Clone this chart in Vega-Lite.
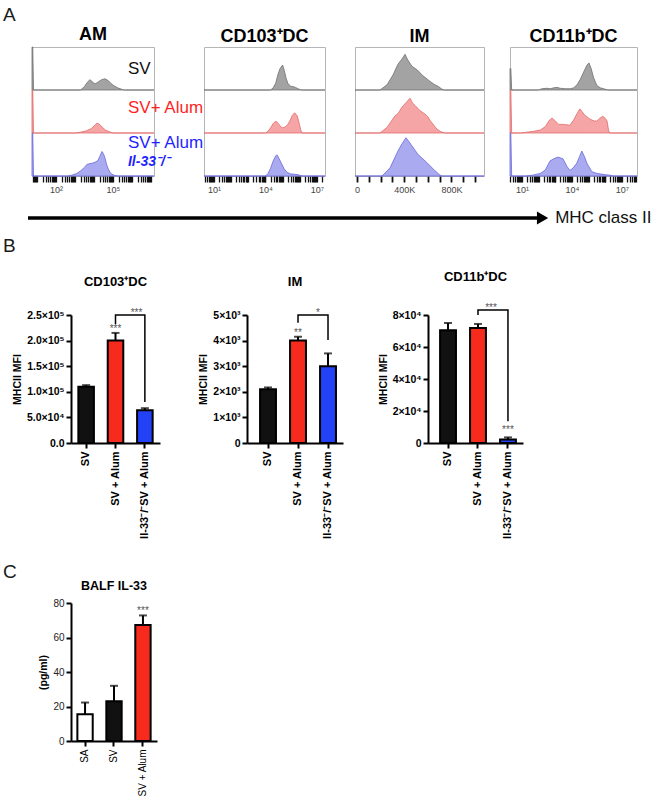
{
"$schema": "https://vega.github.io/schema/vega-lite/v6.json",
"background": "white",
"padding": {"left": 3, "top": 6, "right": 0, "bottom": 0},
"config": {"font": "Liberation Sans", "view": {"stroke": null}, "axis": {"grid": false}},
"spacing": 2,
"resolve": {"scale": {"color": "independent"}},
"datasets": {
"am": [
{"r":"SV","x":0.74,"y":1},{"r":"SV","x":0.78,"y":1},{"r":"SV","x":0.82,"y":0},{"r":"SV","x":3.3,"y":0},{"r":"SV","x":3.5,"y":0.08},{"r":"SV","x":3.65,"y":0.18},{"r":"SV","x":3.79,"y":0.24},{"r":"SV","x":3.92,"y":0.19},{"r":"SV","x":4.05,"y":0.14},{"r":"SV","x":4.2,"y":0.18},{"r":"SV","x":4.4,"y":0.24},{"r":"SV","x":4.58,"y":0.26},{"r":"SV","x":4.75,"y":0.22},{"r":"SV","x":4.9,"y":0.15},{"r":"SV","x":5.05,"y":0.1},{"r":"SV","x":5.25,"y":0.05},{"r":"SV","x":5.5,"y":0.01},{"r":"SV","x":5.6,"y":0},{"r":"SV","x":7.16,"y":0},
{"r":"Alum","x":0.74,"y":1},{"r":"Alum","x":0.78,"y":1},{"r":"Alum","x":0.82,"y":0},{"r":"Alum","x":3.0,"y":0},{"r":"Alum","x":3.3,"y":0.02},{"r":"Alum","x":3.6,"y":0.05},{"r":"Alum","x":3.85,"y":0.1},{"r":"Alum","x":4.05,"y":0.18},{"r":"Alum","x":4.16,"y":0.23},{"r":"Alum","x":4.3,"y":0.2},{"r":"Alum","x":4.45,"y":0.13},{"r":"Alum","x":4.6,"y":0.07},{"r":"Alum","x":4.8,"y":0.03},{"r":"Alum","x":5.0,"y":0},{"r":"Alum","x":7.16,"y":0},
{"r":"KO","x":0.74,"y":1},{"r":"KO","x":0.78,"y":1},{"r":"KO","x":0.82,"y":0},{"r":"KO","x":2.6,"y":0},{"r":"KO","x":2.84,"y":0.02},{"r":"KO","x":3.1,"y":0.06},{"r":"KO","x":3.3,"y":0.12},{"r":"KO","x":3.5,"y":0.2},{"r":"KO","x":3.63,"y":0.27},{"r":"KO","x":3.8,"y":0.29},{"r":"KO","x":3.95,"y":0.3},{"r":"KO","x":4.1,"y":0.33},{"r":"KO","x":4.21,"y":0.36},{"r":"KO","x":4.3,"y":0.45},{"r":"KO","x":4.42,"y":0.57},{"r":"KO","x":4.5,"y":0.52},{"r":"KO","x":4.58,"y":0.42},{"r":"KO","x":4.66,"y":0.28},{"r":"KO","x":4.74,"y":0.18},{"r":"KO","x":4.85,"y":0.08},{"r":"KO","x":4.95,"y":0.04},{"r":"KO","x":5.1,"y":0.01},{"r":"KO","x":5.3,"y":0},{"r":"KO","x":7.16,"y":0}
],
"cd103": [
{"r":"SV","x":0.42,"y":0},{"r":"SV","x":4.3,"y":0},{"r":"SV","x":4.45,"y":0.05},{"r":"SV","x":4.6,"y":0.16},{"r":"SV","x":4.72,"y":0.35},{"r":"SV","x":4.85,"y":0.5},{"r":"SV","x":5.0,"y":0.58},{"r":"SV","x":5.1,"y":0.45},{"r":"SV","x":5.2,"y":0.28},{"r":"SV","x":5.3,"y":0.16},{"r":"SV","x":5.45,"y":0.09},{"r":"SV","x":5.6,"y":0.08},{"r":"SV","x":5.75,"y":0.06},{"r":"SV","x":5.95,"y":0.02},{"r":"SV","x":6.1,"y":0},{"r":"SV","x":7.47,"y":0},
{"r":"Alum","x":0.42,"y":0},{"r":"Alum","x":4.0,"y":0},{"r":"Alum","x":4.15,"y":0.04},{"r":"Alum","x":4.3,"y":0.12},{"r":"Alum","x":4.45,"y":0.22},{"r":"Alum","x":4.6,"y":0.28},{"r":"Alum","x":4.75,"y":0.22},{"r":"Alum","x":4.9,"y":0.14},{"r":"Alum","x":5.0,"y":0.12},{"r":"Alum","x":5.15,"y":0.14},{"r":"Alum","x":5.3,"y":0.2},{"r":"Alum","x":5.45,"y":0.3},{"r":"Alum","x":5.55,"y":0.4},{"r":"Alum","x":5.7,"y":0.47},{"r":"Alum","x":5.85,"y":0.4},{"r":"Alum","x":5.95,"y":0.25},{"r":"Alum","x":6.05,"y":0.08},{"r":"Alum","x":6.12,"y":0},{"r":"Alum","x":7.47,"y":0},
{"r":"KO","x":0.42,"y":0},{"r":"KO","x":4.0,"y":0},{"r":"KO","x":4.15,"y":0.06},{"r":"KO","x":4.3,"y":0.18},{"r":"KO","x":4.45,"y":0.35},{"r":"KO","x":4.6,"y":0.47},{"r":"KO","x":4.68,"y":0.49},{"r":"KO","x":4.8,"y":0.4},{"r":"KO","x":4.95,"y":0.28},{"r":"KO","x":5.1,"y":0.16},{"r":"KO","x":5.25,"y":0.09},{"r":"KO","x":5.45,"y":0.05},{"r":"KO","x":5.7,"y":0.04},{"r":"KO","x":5.9,"y":0.03},{"r":"KO","x":6.05,"y":0.01},{"r":"KO","x":6.2,"y":0},{"r":"KO","x":7.47,"y":0}
],
"im": [
{"r":"SV","x":-17000,"y":0},{"r":"SV","x":195000,"y":0},{"r":"SV","x":254000,"y":0.12},{"r":"SV","x":305000,"y":0.35},{"r":"SV","x":347000,"y":0.6},{"r":"SV","x":381000,"y":0.72},{"r":"SV","x":407000,"y":0.83},{"r":"SV","x":430000,"y":0.7},{"r":"SV","x":449000,"y":0.62},{"r":"SV","x":466000,"y":0.55},{"r":"SV","x":509000,"y":0.47},{"r":"SV","x":559000,"y":0.33},{"r":"SV","x":619000,"y":0.2},{"r":"SV","x":660000,"y":0.12},{"r":"SV","x":690000,"y":0.08},{"r":"SV","x":720000,"y":0.02},{"r":"SV","x":740000,"y":0},{"r":"SV","x":1076000,"y":0},
{"r":"Alum","x":-17000,"y":0},{"r":"Alum","x":195000,"y":0},{"r":"Alum","x":254000,"y":0.13},{"r":"Alum","x":322000,"y":0.4},{"r":"Alum","x":347000,"y":0.45},{"r":"Alum","x":381000,"y":0.6},{"r":"Alum","x":420000,"y":0.72},{"r":"Alum","x":449000,"y":0.81},{"r":"Alum","x":470000,"y":0.7},{"r":"Alum","x":492000,"y":0.64},{"r":"Alum","x":534000,"y":0.52},{"r":"Alum","x":576000,"y":0.44},{"r":"Alum","x":600000,"y":0.38},{"r":"Alum","x":619000,"y":0.29},{"r":"Alum","x":660000,"y":0.15},{"r":"Alum","x":678000,"y":0.09},{"r":"Alum","x":710000,"y":0.03},{"r":"Alum","x":746000,"y":0},{"r":"Alum","x":1076000,"y":0},
{"r":"KO","x":-17000,"y":0},{"r":"KO","x":212000,"y":0},{"r":"KO","x":280000,"y":0.19},{"r":"KO","x":347000,"y":0.58},{"r":"KO","x":381000,"y":0.75},{"r":"KO","x":415000,"y":0.89},{"r":"KO","x":440000,"y":0.8},{"r":"KO","x":466000,"y":0.7},{"r":"KO","x":517000,"y":0.5},{"r":"KO","x":593000,"y":0.31},{"r":"KO","x":661000,"y":0.12},{"r":"KO","x":703000,"y":0.02},{"r":"KO","x":720000,"y":0},{"r":"KO","x":1076000,"y":0}
],
"cd11b": [
{"r":"SV","x":0.28,"y":0.5},{"r":"SV","x":0.33,"y":0.5},{"r":"SV","x":0.38,"y":0},{"r":"SV","x":2.0,"y":0},{"r":"SV","x":2.2,"y":0.03},{"r":"SV","x":2.5,"y":0.04},{"r":"SV","x":2.7,"y":0.03},{"r":"SV","x":2.9,"y":0.05},{"r":"SV","x":3.1,"y":0.06},{"r":"SV","x":3.3,"y":0.04},{"r":"SV","x":3.6,"y":0.03},{"r":"SV","x":3.9,"y":0.03},{"r":"SV","x":4.1,"y":0.05},{"r":"SV","x":4.3,"y":0.12},{"r":"SV","x":4.5,"y":0.25},{"r":"SV","x":4.7,"y":0.42},{"r":"SV","x":4.9,"y":0.58},{"r":"SV","x":5.02,"y":0.63},{"r":"SV","x":5.15,"y":0.5},{"r":"SV","x":5.3,"y":0.28},{"r":"SV","x":5.5,"y":0.1},{"r":"SV","x":5.7,"y":0.05},{"r":"SV","x":5.9,"y":0.03},{"r":"SV","x":6.15,"y":0},{"r":"SV","x":7.9,"y":0},
{"r":"Alum","x":0.28,"y":1},{"r":"Alum","x":0.33,"y":1},{"r":"Alum","x":0.38,"y":0},{"r":"Alum","x":0.9,"y":0},{"r":"Alum","x":1.3,"y":0.02},{"r":"Alum","x":1.7,"y":0.04},{"r":"Alum","x":2.1,"y":0.07},{"r":"Alum","x":2.4,"y":0.15},{"r":"Alum","x":2.65,"y":0.3},{"r":"Alum","x":2.8,"y":0.35},{"r":"Alum","x":3.0,"y":0.28},{"r":"Alum","x":3.2,"y":0.2},{"r":"Alum","x":3.5,"y":0.2},{"r":"Alum","x":3.87,"y":0.18},{"r":"Alum","x":4.1,"y":0.3},{"r":"Alum","x":4.3,"y":0.45},{"r":"Alum","x":4.47,"y":0.56},{"r":"Alum","x":4.6,"y":0.5},{"r":"Alum","x":4.75,"y":0.42},{"r":"Alum","x":4.89,"y":0.38},{"r":"Alum","x":5.05,"y":0.33},{"r":"Alum","x":5.2,"y":0.3},{"r":"Alum","x":5.35,"y":0.28},{"r":"Alum","x":5.49,"y":0.28},{"r":"Alum","x":5.65,"y":0.34},{"r":"Alum","x":5.85,"y":0.39},{"r":"Alum","x":6.0,"y":0.34},{"r":"Alum","x":6.1,"y":0.28},{"r":"Alum","x":6.2,"y":0.05},{"r":"Alum","x":6.27,"y":0},{"r":"Alum","x":7.9,"y":0},
{"r":"KO","x":0.28,"y":1},{"r":"KO","x":0.33,"y":1},{"r":"KO","x":0.38,"y":0},{"r":"KO","x":1.2,"y":0},{"r":"KO","x":1.66,"y":0.02},{"r":"KO","x":2.1,"y":0.06},{"r":"KO","x":2.4,"y":0.14},{"r":"KO","x":2.68,"y":0.35},{"r":"KO","x":2.9,"y":0.4},{"r":"KO","x":3.16,"y":0.44},{"r":"KO","x":3.46,"y":0.4},{"r":"KO","x":3.7,"y":0.22},{"r":"KO","x":3.87,"y":0.13},{"r":"KO","x":4.05,"y":0.18},{"r":"KO","x":4.29,"y":0.3},{"r":"KO","x":4.45,"y":0.45},{"r":"KO","x":4.59,"y":0.58},{"r":"KO","x":4.75,"y":0.45},{"r":"KO","x":4.89,"y":0.3},{"r":"KO","x":5.19,"y":0.1},{"r":"KO","x":5.5,"y":0.06},{"r":"KO","x":5.67,"y":0.05},{"r":"KO","x":6.0,"y":0.03},{"r":"KO","x":6.27,"y":0.02},{"r":"KO","x":6.5,"y":0},{"r":"KO","x":7.9,"y":0}
],
"b1": [{"g":"SV","m":110000,"e":113000},{"g":"SV + Alum","m":200000,"e":215000},{"g":"Il-33⁻/⁻SV + Alum","m":64000,"e":68000}],
"b1br": [{"g":"SV + Alum","v":232000,"i":1},{"g":"SV + Alum","v":250000,"i":2},{"g":"Il-33⁻/⁻SV + Alum","v":250000,"i":3},{"g":"Il-33⁻/⁻SV + Alum","v":80000,"i":4}],
"b2": [{"g":"SV","m":2100,"e":2170},{"g":"SV + Alum","m":4000,"e":4150},{"g":"Il-33⁻/⁻SV + Alum","m":3000,"e":3500}],
"b2br": [{"g":"SV + Alum","v":4700,"i":1},{"g":"SV + Alum","v":5000,"i":2},{"g":"Il-33⁻/⁻SV + Alum","v":5000,"i":3},{"g":"Il-33⁻/⁻SV + Alum","v":4020,"i":4}],
"b3": [{"g":"SV","m":70500,"e":75000},{"g":"SV + Alum","m":71800,"e":74400},{"g":"Il-33⁻/⁻SV + Alum","m":2200,"e":3500}],
"b3br": [{"g":"SV + Alum","v":80000,"i":1},{"g":"SV + Alum","v":83100,"i":2},{"g":"Il-33⁻/⁻SV + Alum","v":83100,"i":3},{"g":"Il-33⁻/⁻SV + Alum","v":13600,"i":4}],
"c": [{"g":"SA","m":15.5,"e":22.3},{"g":"SV","m":23,"e":32},{"g":"SV + Alum","m":67.3,"e":72.8}]
},
"vconcat": [
{"hconcat": [
{"width": 29, "height": 152, "data": {"values": []}, "mark": "point", "title": {"text": "A", "anchor": "start", "frame": "group", "fontSize": 19, "fontWeight": "normal", "color": "#1a1a1a", "baseline": "alphabetic", "offset": 7}},
{"width": 122, "height": 129, "view": {"stroke": "#b5b5b5"},
 "title": {"text": "AM", "fontSize": 18, "fontWeight": "bold", "baseline": "alphabetic", "offset": -13},
 "data": {"name": "am"},
 "layer": [
  {"transform": [{"filter": "datum.r === 'SV'"}], "mark": {"type": "area", "fill": "#a3a3a3", "stroke": "#707070", "strokeWidth": 0.8},
   "encoding": {"x": {"field": "x", "type": "quantitative", "scale": {"domain": [0.74, 7.16], "nice": false, "zero": false},
     "axis": {"values": [0.778,0.845,0.903,0.954,1,1.301,1.477,1.602,1.699,1.778,1.845,1.903,1.954,2,2.301,2.477,2.602,2.699,2.778,2.845,2.903,2.954,3,3.301,3.477,3.602,3.699,3.778,3.845,3.903,3.954,4,4.301,4.477,4.602,4.699,4.778,4.845,4.903,4.954,5,5.301,5.477,5.602,5.699,5.778,5.845,5.903,5.954,6,6.301,6.477,6.602,6.699,6.778,6.845,6.903,6.954,7], "tickCount": 500,
       "labelExpr": "datum.value == 2 ? '10²' : datum.value == 5 ? '10⁵' : ''", "title": null, "domain": false, "tickSize": 6, "tickColor": "#111", "tickWidth": 1.3, "labelFontSize": 9, "labelColor": "#444", "labelPadding": 3, "labelFlush": false, "labelOverlap": false, "labelBound": false}},
    "y": {"field": "y", "type": "quantitative", "scale": {"domain": [-2, 1], "nice": false, "zero": false}, "axis": null}, "y2": {"datum": 0}}},
  {"transform": [{"filter": "datum.r === 'Alum'"}], "mark": {"type": "area", "fill": "#f5a5a5", "stroke": "#e26a6a", "strokeWidth": 0.8},
   "encoding": {"x": {"field": "x", "type": "quantitative"}, "y": {"field": "y", "type": "quantitative", "scale": {"domain": [-1, 2], "nice": false, "zero": false}, "axis": null}, "y2": {"datum": 0}}},
  {"transform": [{"filter": "datum.r === 'KO'"}], "mark": {"type": "area", "fill": "#aaaaf0", "stroke": "#6a6ad8", "strokeWidth": 0.8},
   "encoding": {"x": {"field": "x", "type": "quantitative"}, "y": {"field": "y", "type": "quantitative", "scale": {"domain": [0, 3], "nice": false, "zero": false}, "axis": null}, "y2": {"datum": 0}}},
  {"data": {"values": [{}]}, "mark": {"type": "text", "text": "SV", "align": "left", "baseline": "middle", "fontSize": 17, "color": "#111"},
   "encoding": {"x": {"datum": 5.79, "type": "quantitative"}, "y": {"datum": 2.5, "type": "quantitative", "scale": {"domain": [0, 3], "nice": false}, "axis": null}}},
  {"data": {"values": [{}]}, "mark": {"type": "text", "text": "SV+ Alum", "align": "left", "baseline": "middle", "fontSize": 17, "color": "#ff1f1f"},
   "encoding": {"x": {"datum": 5.79, "type": "quantitative"}, "y": {"datum": 1.57, "type": "quantitative", "scale": {"domain": [0, 3], "nice": false}, "axis": null}}},
  {"data": {"values": [{}]}, "mark": {"type": "text", "text": "SV+ Alum", "align": "left", "baseline": "middle", "fontSize": 17, "color": "#1f1fff"},
   "encoding": {"x": {"datum": 5.79, "type": "quantitative"}, "y": {"datum": 0.76, "type": "quantitative", "scale": {"domain": [0, 3], "nice": false}, "axis": null}}},
  {"data": {"values": [{}]}, "mark": {"type": "text", "text": "Il-33⁻/⁻", "align": "left", "baseline": "middle", "fontSize": 14, "fontStyle": "italic", "fontWeight": "bold", "color": "#1f1fff"},
   "encoding": {"x": {"datum": 5.79, "type": "quantitative"}, "y": {"datum": 0.33, "type": "quantitative", "scale": {"domain": [0, 3], "nice": false}, "axis": null}}}
 ],
 "resolve": {"scale": {"y": "independent"}}},
{"width": 50, "height": 1, "data": {"values": []}, "mark": "point"},
{"width": 121, "height": 129, "view": {"stroke": "#b5b5b5"},
 "title": {"text": "CD103⁺DC", "fontSize": 18, "fontWeight": "bold", "baseline": "alphabetic", "offset": -13},
 "data": {"name": "cd103"},
 "layer": [
  {"transform": [{"filter": "datum.r === 'SV'"}], "mark": {"type": "area", "fill": "#a3a3a3", "stroke": "#707070", "strokeWidth": 0.8},
   "encoding": {"x": {"field": "x", "type": "quantitative", "scale": {"domain": [0.42, 7.47], "nice": false, "zero": false},
     "axis": {"values": [0.477,0.602,0.699,0.778,0.845,0.903,0.954,1,1.301,1.477,1.602,1.699,1.778,1.845,1.903,1.954,2,2.301,2.477,2.602,2.699,2.778,2.845,2.903,2.954,3,3.301,3.477,3.602,3.699,3.778,3.845,3.903,3.954,4,4.301,4.477,4.602,4.699,4.778,4.845,4.903,4.954,5,5.301,5.477,5.602,5.699,5.778,5.845,5.903,5.954,6,6.301,6.477,6.602,6.699,6.778,6.845,6.903,6.954,7,7.301], "tickCount": 500,
       "labelExpr": "datum.value == 1 ? '10¹' : datum.value == 4 ? '10⁴' : datum.value == 7 ? '10⁷' : ''", "title": null, "domain": false, "tickSize": 6, "tickColor": "#111", "tickWidth": 1.3, "labelFontSize": 9, "labelColor": "#444", "labelPadding": 3, "labelFlush": false, "labelOverlap": false, "labelBound": false}},
    "y": {"field": "y", "type": "quantitative", "scale": {"domain": [-2, 1], "nice": false, "zero": false}, "axis": null}, "y2": {"datum": 0}}},
  {"transform": [{"filter": "datum.r === 'Alum'"}], "mark": {"type": "area", "fill": "#f5a5a5", "stroke": "#e26a6a", "strokeWidth": 0.8},
   "encoding": {"x": {"field": "x", "type": "quantitative"}, "y": {"field": "y", "type": "quantitative", "scale": {"domain": [-1, 2], "nice": false, "zero": false}, "axis": null}, "y2": {"datum": 0}}},
  {"transform": [{"filter": "datum.r === 'KO'"}], "mark": {"type": "area", "fill": "#aaaaf0", "stroke": "#6a6ad8", "strokeWidth": 0.8},
   "encoding": {"x": {"field": "x", "type": "quantitative"}, "y": {"field": "y", "type": "quantitative", "scale": {"domain": [0, 3], "nice": false, "zero": false}, "axis": null}, "y2": {"datum": 0}}}
 ],
 "resolve": {"scale": {"y": "independent"}}},
{"width": 30, "height": 1, "data": {"values": []}, "mark": "point"},
{"width": 129, "height": 129, "view": {"stroke": "#b5b5b5"},
 "title": {"text": "IM", "fontSize": 18, "fontWeight": "bold", "baseline": "alphabetic", "offset": -13},
 "data": {"name": "im"},
 "layer": [
  {"transform": [{"filter": "datum.r === 'SV'"}], "mark": {"type": "area", "fill": "#a3a3a3", "stroke": "#707070", "strokeWidth": 0.8},
   "encoding": {"x": {"field": "x", "type": "quantitative", "scale": {"domain": [-17000, 1076000], "nice": false, "zero": false},
     "axis": {"values": [0,100000,200000,300000,400000,500000,600000,700000,800000,900000,1000000], "tickCount": 500,
       "labelExpr": "datum.value == 0 ? '0' : datum.value == 400000 ? '400K' : datum.value == 800000 ? '800K' : ''", "title": null, "domain": false, "tickSize": 6, "tickColor": "#111", "tickWidth": 1.8, "labelFontSize": 9, "labelColor": "#444", "labelPadding": 3, "labelFlush": false, "labelOverlap": false, "labelBound": false}},
    "y": {"field": "y", "type": "quantitative", "scale": {"domain": [-2, 1], "nice": false, "zero": false}, "axis": null}, "y2": {"datum": 0}}},
  {"transform": [{"filter": "datum.r === 'Alum'"}], "mark": {"type": "area", "fill": "#f5a5a5", "stroke": "#e26a6a", "strokeWidth": 0.8},
   "encoding": {"x": {"field": "x", "type": "quantitative"}, "y": {"field": "y", "type": "quantitative", "scale": {"domain": [-1, 2], "nice": false, "zero": false}, "axis": null}, "y2": {"datum": 0}}},
  {"transform": [{"filter": "datum.r === 'KO'"}], "mark": {"type": "area", "fill": "#aaaaf0", "stroke": "#6a6ad8", "strokeWidth": 0.8},
   "encoding": {"x": {"field": "x", "type": "quantitative"}, "y": {"field": "y", "type": "quantitative", "scale": {"domain": [0, 3], "nice": false, "zero": false}, "axis": null}, "y2": {"datum": 0}}}
 ],
 "resolve": {"scale": {"y": "independent"}}},
{"width": 26, "height": 1, "data": {"values": []}, "mark": "point"},
{"width": 127, "height": 129, "view": {"stroke": "#b5b5b5"},
 "title": {"text": "CD11b⁺DC", "fontSize": 18, "fontWeight": "bold", "baseline": "alphabetic", "offset": -13},
 "data": {"name": "cd11b"},
 "layer": [
  {"transform": [{"filter": "datum.r === 'SV'"}], "mark": {"type": "area", "fill": "#a3a3a3", "stroke": "#707070", "strokeWidth": 0.8},
   "encoding": {"x": {"field": "x", "type": "quantitative", "scale": {"domain": [0.28, 7.9], "nice": false, "zero": false},
     "axis": {"values": [0.301,0.477,0.602,0.699,0.778,0.845,0.903,0.954,1,1.301,1.477,1.602,1.699,1.778,1.845,1.903,1.954,2,2.301,2.477,2.602,2.699,2.778,2.845,2.903,2.954,3,3.301,3.477,3.602,3.699,3.778,3.845,3.903,3.954,4,4.301,4.477,4.602,4.699,4.778,4.845,4.903,4.954,5,5.301,5.477,5.602,5.699,5.778,5.845,5.903,5.954,6,6.301,6.477,6.602,6.699,6.778,6.845,6.903,6.954,7,7.301,7.477,7.602,7.699,7.778,7.845], "tickCount": 500,
       "labelExpr": "datum.value == 1 ? '10¹' : datum.value == 4 ? '10⁴' : datum.value == 7 ? '10⁷' : ''", "title": null, "domain": false, "tickSize": 6, "tickColor": "#111", "tickWidth": 1.3, "labelFontSize": 9, "labelColor": "#444", "labelPadding": 3, "labelFlush": false, "labelOverlap": false, "labelBound": false}},
    "y": {"field": "y", "type": "quantitative", "scale": {"domain": [-2, 1], "nice": false, "zero": false}, "axis": null}, "y2": {"datum": 0}}},
  {"transform": [{"filter": "datum.r === 'Alum'"}], "mark": {"type": "area", "fill": "#f5a5a5", "stroke": "#e26a6a", "strokeWidth": 0.8},
   "encoding": {"x": {"field": "x", "type": "quantitative"}, "y": {"field": "y", "type": "quantitative", "scale": {"domain": [-1, 2], "nice": false, "zero": false}, "axis": null}, "y2": {"datum": 0}}},
  {"transform": [{"filter": "datum.r === 'KO'"}], "mark": {"type": "area", "fill": "#aaaaf0", "stroke": "#6a6ad8", "strokeWidth": 0.8},
   "encoding": {"x": {"field": "x", "type": "quantitative"}, "y": {"field": "y", "type": "quantitative", "scale": {"domain": [0, 3], "nice": false, "zero": false}, "axis": null}, "y2": {"datum": 0}}}
 ],
 "resolve": {"scale": {"y": "independent"}}}
], "spacing": 0, "bounds": "flush"},

{"hconcat": [
{"width": 25, "height": 1, "data": {"values": []}, "mark": "point"},
{"width": 524, "height": 34, "data": {"values": [{}]},
 "layer": [
  {"mark": {"type": "rule", "strokeWidth": 3.5, "color": "black"},
   "encoding": {"x": {"datum": 0, "type": "quantitative", "scale": {"domain": [0, 100], "nice": false}, "axis": null}, "x2": {"datum": 97.5}, "y": {"datum": 0.5, "type": "quantitative", "scale": {"domain": [0, 1], "nice": false}, "axis": null}}},
  {"mark": {"type": "point", "shape": "triangle-right", "filled": true, "color": "black", "opacity": 1, "size": 170},
   "encoding": {"x": {"datum": 98.2, "type": "quantitative", "axis": null}, "y": {"datum": 0.5, "type": "quantitative", "axis": null}}},
  {"mark": {"type": "text", "text": "MHC class II", "align": "left", "baseline": "middle", "fontSize": 17, "color": "#111"},
   "encoding": {"x": {"datum": 100.6, "type": "quantitative", "axis": null}, "y": {"datum": 0.5, "type": "quantitative", "axis": null}}}
 ]}
], "spacing": 0, "bounds": "flush"},

{"hconcat": [
{"width": 68, "height": 246, "data": {"values": []}, "mark": "point", "title": {"text": "B", "anchor": "start", "frame": "group", "fontSize": 19, "fontWeight": "normal", "color": "#1a1a1a", "baseline": "alphabetic", "offset": 44}},
{"width": 89, "height": 128,
 "title": {"text": "CD103⁺DC", "fontSize": 13, "fontWeight": "bold", "baseline": "alphabetic", "offset": 9},
 "layer": [
  {"data": {"name": "b1"}, "mark": {"type": "rule", "strokeWidth": 2, "color": "black"},
   "encoding": {"x": {"field": "g", "type": "nominal", "sort": null, "scale": {"domain": ["SV", "SV + Alum", "Il-33⁻/⁻SV + Alum"], "paddingInner": 0.47, "paddingOuter": 0.25, "align": 0.5},
     "axis": {"title": null, "labelAngle": -90, "labelFontSize": 11, "labelFontWeight": "bold", "labelColor": "black", "domainColor": "black", "domainWidth": 2, "tickColor": "black", "tickWidth": 2, "tickSize": 5, "labelPadding": 3, "labelOverlap": false}},
    "y": {"field": "m", "type": "quantitative", "scale": {"domain": [0, 250000], "nice": false},
     "axis": {"values": [0, 50000, 100000, 150000, 200000, 250000], "tickCount": 500, "labelExpr": "datum.value == 0 ? '0.0' : datum.value == 50000 ? '5.0×10⁴' : datum.value == 100000 ? '1.0×10⁵' : datum.value == 150000 ? '1.5×10⁵' : datum.value == 200000 ? '2.0×10⁵' : '2.5×10⁵'",
      "title": "MHCII MFI", "titleFontSize": 10.5, "titleFontWeight": "bold", "titleColor": "black", "titlePadding": 4, "labelFontSize": 10.5, "labelFontWeight": "bold", "labelColor": "black", "domainColor": "black", "domainWidth": 2, "tickColor": "black", "tickWidth": 2, "tickSize": 5, "labelPadding": 2, "labelOverlap": false, "labelFlush": false}},
    "y2": {"field": "e"}}},
  {"data": {"name": "b1"}, "mark": {"type": "tick", "orient": "horizontal", "size": 8, "thickness": 2, "color": "black"},
   "encoding": {"x": {"field": "g", "type": "nominal"}, "y": {"field": "e", "type": "quantitative"}}},
  {"data": {"name": "b1"}, "mark": {"type": "bar", "stroke": "black", "strokeWidth": 2},
   "encoding": {"x": {"field": "g", "type": "nominal"}, "y": {"field": "m", "type": "quantitative"},
    "color": {"field": "g", "type": "nominal", "scale": {"domain": ["SV", "SV + Alum", "Il-33⁻/⁻SV + Alum"], "range": ["#111111", "#f62b1d", "#2342f5"]}, "legend": null}}},
  {"data": {"name": "b1br"}, "mark": {"type": "line", "color": "black", "strokeWidth": 1.5},
   "encoding": {"x": {"field": "g", "type": "nominal"}, "y": {"field": "v", "type": "quantitative"}, "order": {"field": "i", "type": "quantitative"}}},
  {"data": {"values": [{"g": "SV + Alum", "v": 216800}]}, "mark": {"type": "text", "text": "***", "fontSize": 10, "color": "#555", "baseline": "alphabetic"},
   "encoding": {"x": {"field": "g", "type": "nominal"}, "y": {"field": "v", "type": "quantitative"}}},
  {"data": {"values": [{"g": "SV + Alum", "v": 248000}]}, "mark": {"type": "text", "text": "***", "fontSize": 10, "color": "#555", "baseline": "alphabetic", "dx": 21},
   "encoding": {"x": {"field": "g", "type": "nominal"}, "y": {"field": "v", "type": "quantitative"}}}
 ]},
{"width": 87, "height": 1, "data": {"values": []}, "mark": "point"},
{"width": 96, "height": 128,
 "title": {"text": "IM", "fontSize": 13, "fontWeight": "bold", "baseline": "alphabetic", "offset": 9},
 "layer": [
  {"data": {"name": "b2"}, "mark": {"type": "rule", "strokeWidth": 2, "color": "black"},
   "encoding": {"x": {"field": "g", "type": "nominal", "sort": null, "scale": {"domain": ["SV", "SV + Alum", "Il-33⁻/⁻SV + Alum"], "paddingInner": 0.47, "paddingOuter": 0.335, "align": 0.65},
     "axis": {"title": null, "labelAngle": -90, "labelFontSize": 11, "labelFontWeight": "bold", "labelColor": "black", "domainColor": "black", "domainWidth": 2, "tickColor": "black", "tickWidth": 2, "tickSize": 5, "labelPadding": 3, "labelOverlap": false}},
    "y": {"field": "m", "type": "quantitative", "scale": {"domain": [0, 5000], "nice": false},
     "axis": {"values": [0, 1000, 2000, 3000, 4000, 5000], "tickCount": 500, "labelExpr": "datum.value == 0 ? '0' : format(datum.value / 1000, 'd') + '×10³'",
      "title": "MHCII MFI", "titleFontSize": 10.5, "titleFontWeight": "bold", "titleColor": "black", "titlePadding": 4, "labelFontSize": 10.5, "labelFontWeight": "bold", "labelColor": "black", "domainColor": "black", "domainWidth": 2, "tickColor": "black", "tickWidth": 2, "tickSize": 5, "labelPadding": 2, "labelOverlap": false, "labelFlush": false}},
    "y2": {"field": "e"}}},
  {"data": {"name": "b2"}, "mark": {"type": "tick", "orient": "horizontal", "size": 8, "thickness": 2, "color": "black"},
   "encoding": {"x": {"field": "g", "type": "nominal"}, "y": {"field": "e", "type": "quantitative"}}},
  {"data": {"name": "b2"}, "mark": {"type": "bar", "stroke": "black", "strokeWidth": 2},
   "encoding": {"x": {"field": "g", "type": "nominal"}, "y": {"field": "m", "type": "quantitative"},
    "color": {"field": "g", "type": "nominal", "scale": {"domain": ["SV", "SV + Alum", "Il-33⁻/⁻SV + Alum"], "range": ["#111111", "#f62b1d", "#2342f5"]}, "legend": null}}},
  {"data": {"name": "b2br"}, "mark": {"type": "line", "color": "black", "strokeWidth": 1.5},
   "encoding": {"x": {"field": "g", "type": "nominal"}, "y": {"field": "v", "type": "quantitative"}, "order": {"field": "i", "type": "quantitative"}}},
  {"data": {"values": [{"g": "SV + Alum", "v": 4180}]}, "mark": {"type": "text", "text": "**", "fontSize": 10, "color": "#555", "baseline": "alphabetic"},
   "encoding": {"x": {"field": "g", "type": "nominal"}, "y": {"field": "v", "type": "quantitative"}}},
  {"data": {"values": [{"g": "SV + Alum", "v": 4960}]}, "mark": {"type": "text", "text": "*", "fontSize": 10, "color": "#555", "baseline": "alphabetic", "dx": 20},
   "encoding": {"x": {"field": "g", "type": "nominal"}, "y": {"field": "v", "type": "quantitative"}}}
 ]},
{"width": 85, "height": 1, "data": {"values": []}, "mark": "point"},
{"width": 95, "height": 128,
 "title": {"text": "CD11b⁺DC", "fontSize": 13, "fontWeight": "bold", "baseline": "alphabetic", "offset": 9},
 "layer": [
  {"data": {"name": "b3"}, "mark": {"type": "rule", "strokeWidth": 2, "color": "black"},
   "encoding": {"x": {"field": "g", "type": "nominal", "sort": null, "scale": {"domain": ["SV", "SV + Alum", "Il-33⁻/⁻SV + Alum"], "paddingInner": 0.47, "paddingOuter": 0.32, "align": 0.63},
     "axis": {"title": null, "labelAngle": -90, "labelFontSize": 11, "labelFontWeight": "bold", "labelColor": "black", "domainColor": "black", "domainWidth": 2, "tickColor": "black", "tickWidth": 2, "tickSize": 5, "labelPadding": 3, "labelOverlap": false}},
    "y": {"field": "m", "type": "quantitative", "scale": {"domain": [0, 80000], "nice": false},
     "axis": {"values": [0, 20000, 40000, 60000, 80000], "tickCount": 500, "labelExpr": "datum.value == 0 ? '0' : format(datum.value / 10000, 'd') + '×10⁴'",
      "title": "MHCII MFI", "titleFontSize": 10.5, "titleFontWeight": "bold", "titleColor": "black", "titlePadding": 4, "labelFontSize": 10.5, "labelFontWeight": "bold", "labelColor": "black", "domainColor": "black", "domainWidth": 2, "tickColor": "black", "tickWidth": 2, "tickSize": 5, "labelPadding": 2, "labelOverlap": false, "labelFlush": false}},
    "y2": {"field": "e"}}},
  {"data": {"name": "b3"}, "mark": {"type": "tick", "orient": "horizontal", "size": 8, "thickness": 2, "color": "black"},
   "encoding": {"x": {"field": "g", "type": "nominal"}, "y": {"field": "e", "type": "quantitative"}}},
  {"data": {"name": "b3"}, "mark": {"type": "bar", "stroke": "black", "strokeWidth": 2},
   "encoding": {"x": {"field": "g", "type": "nominal"}, "y": {"field": "m", "type": "quantitative"},
    "color": {"field": "g", "type": "nominal", "scale": {"domain": ["SV", "SV + Alum", "Il-33⁻/⁻SV + Alum"], "range": ["#111111", "#f62b1d", "#2342f5"]}, "legend": null}}},
  {"data": {"name": "b3br"}, "mark": {"type": "line", "color": "black", "strokeWidth": 1.5},
   "encoding": {"x": {"field": "g", "type": "nominal"}, "y": {"field": "v", "type": "quantitative"}, "order": {"field": "i", "type": "quantitative"}}},
  {"data": {"values": [{"g": "Il-33⁻/⁻SV + Alum", "v": 6200}]}, "mark": {"type": "text", "text": "***", "fontSize": 10, "color": "#555", "baseline": "alphabetic"},
   "encoding": {"x": {"field": "g", "type": "nominal"}, "y": {"field": "v", "type": "quantitative"}}},
  {"data": {"values": [{"g": "SV + Alum", "v": 82500}]}, "mark": {"type": "text", "text": "***", "fontSize": 10, "color": "#555", "baseline": "alphabetic", "dx": 13},
   "encoding": {"x": {"field": "g", "type": "nominal"}, "y": {"field": "v", "type": "quantitative"}}}
 ]}
], "spacing": 0, "bounds": "flush"},

{"hconcat": [
{"width": 68, "height": 1, "data": {"values": []}, "mark": "point", "title": {"text": "C", "anchor": "start", "frame": "group", "fontSize": 19, "fontWeight": "normal", "color": "#1a1a1a", "baseline": "alphabetic", "offset": 6}},
{"width": 86, "height": 138,
 "title": {"text": "BALF IL-33", "fontSize": 12.5, "fontWeight": "bold", "baseline": "alphabetic", "offset": -4},
 "layer": [
  {"data": {"name": "c"}, "mark": {"type": "rule", "strokeWidth": 2, "color": "black"},
   "encoding": {"x": {"field": "g", "type": "nominal", "sort": null, "scale": {"domain": ["SA", "SV", "SV + Alum"], "paddingInner": 0.47, "paddingOuter": 0.22, "align": 0.5},
     "axis": {"title": null, "labelAngle": -90, "labelFontSize": 10, "labelFontWeight": "normal", "labelColor": "black", "domainColor": "black", "domainWidth": 2, "tickColor": "black", "tickWidth": 2, "tickSize": 5, "labelPadding": 3, "labelOverlap": false}},
    "y": {"field": "m", "type": "quantitative", "scale": {"domain": [0, 80], "nice": false},
     "axis": {"values": [0, 20, 40, 60, 80], "tickCount": 500, "format": "d", "title": "(pg/ml)", "titleFontSize": 10.5, "titleFontWeight": "bold", "titleColor": "black", "titlePadding": 4, "labelFontSize": 10, "labelFontWeight": "normal", "labelColor": "#222", "domainColor": "black", "domainWidth": 2, "tickColor": "black", "tickWidth": 2, "tickSize": 5, "labelPadding": 2, "labelOverlap": false, "labelFlush": false}},
    "y2": {"field": "e"}}},
  {"data": {"name": "c"}, "mark": {"type": "tick", "orient": "horizontal", "size": 8, "thickness": 2, "color": "black"},
   "encoding": {"x": {"field": "g", "type": "nominal"}, "y": {"field": "e", "type": "quantitative"}}},
  {"data": {"name": "c"}, "mark": {"type": "bar", "stroke": "black", "strokeWidth": 2},
   "encoding": {"x": {"field": "g", "type": "nominal"}, "y": {"field": "m", "type": "quantitative"},
    "color": {"field": "g", "type": "nominal", "scale": {"domain": ["SA", "SV", "SV + Alum"], "range": ["#ffffff", "#111111", "#f62b1d"]}, "legend": null}}},
  {"data": {"values": [{"g": "SV + Alum", "v": 73.5}]}, "mark": {"type": "text", "text": "***", "fontSize": 10, "color": "#555", "baseline": "alphabetic"},
   "encoding": {"x": {"field": "g", "type": "nominal"}, "y": {"field": "v", "type": "quantitative"}}}
 ]}
], "spacing": 0, "bounds": "flush"}
]
}
